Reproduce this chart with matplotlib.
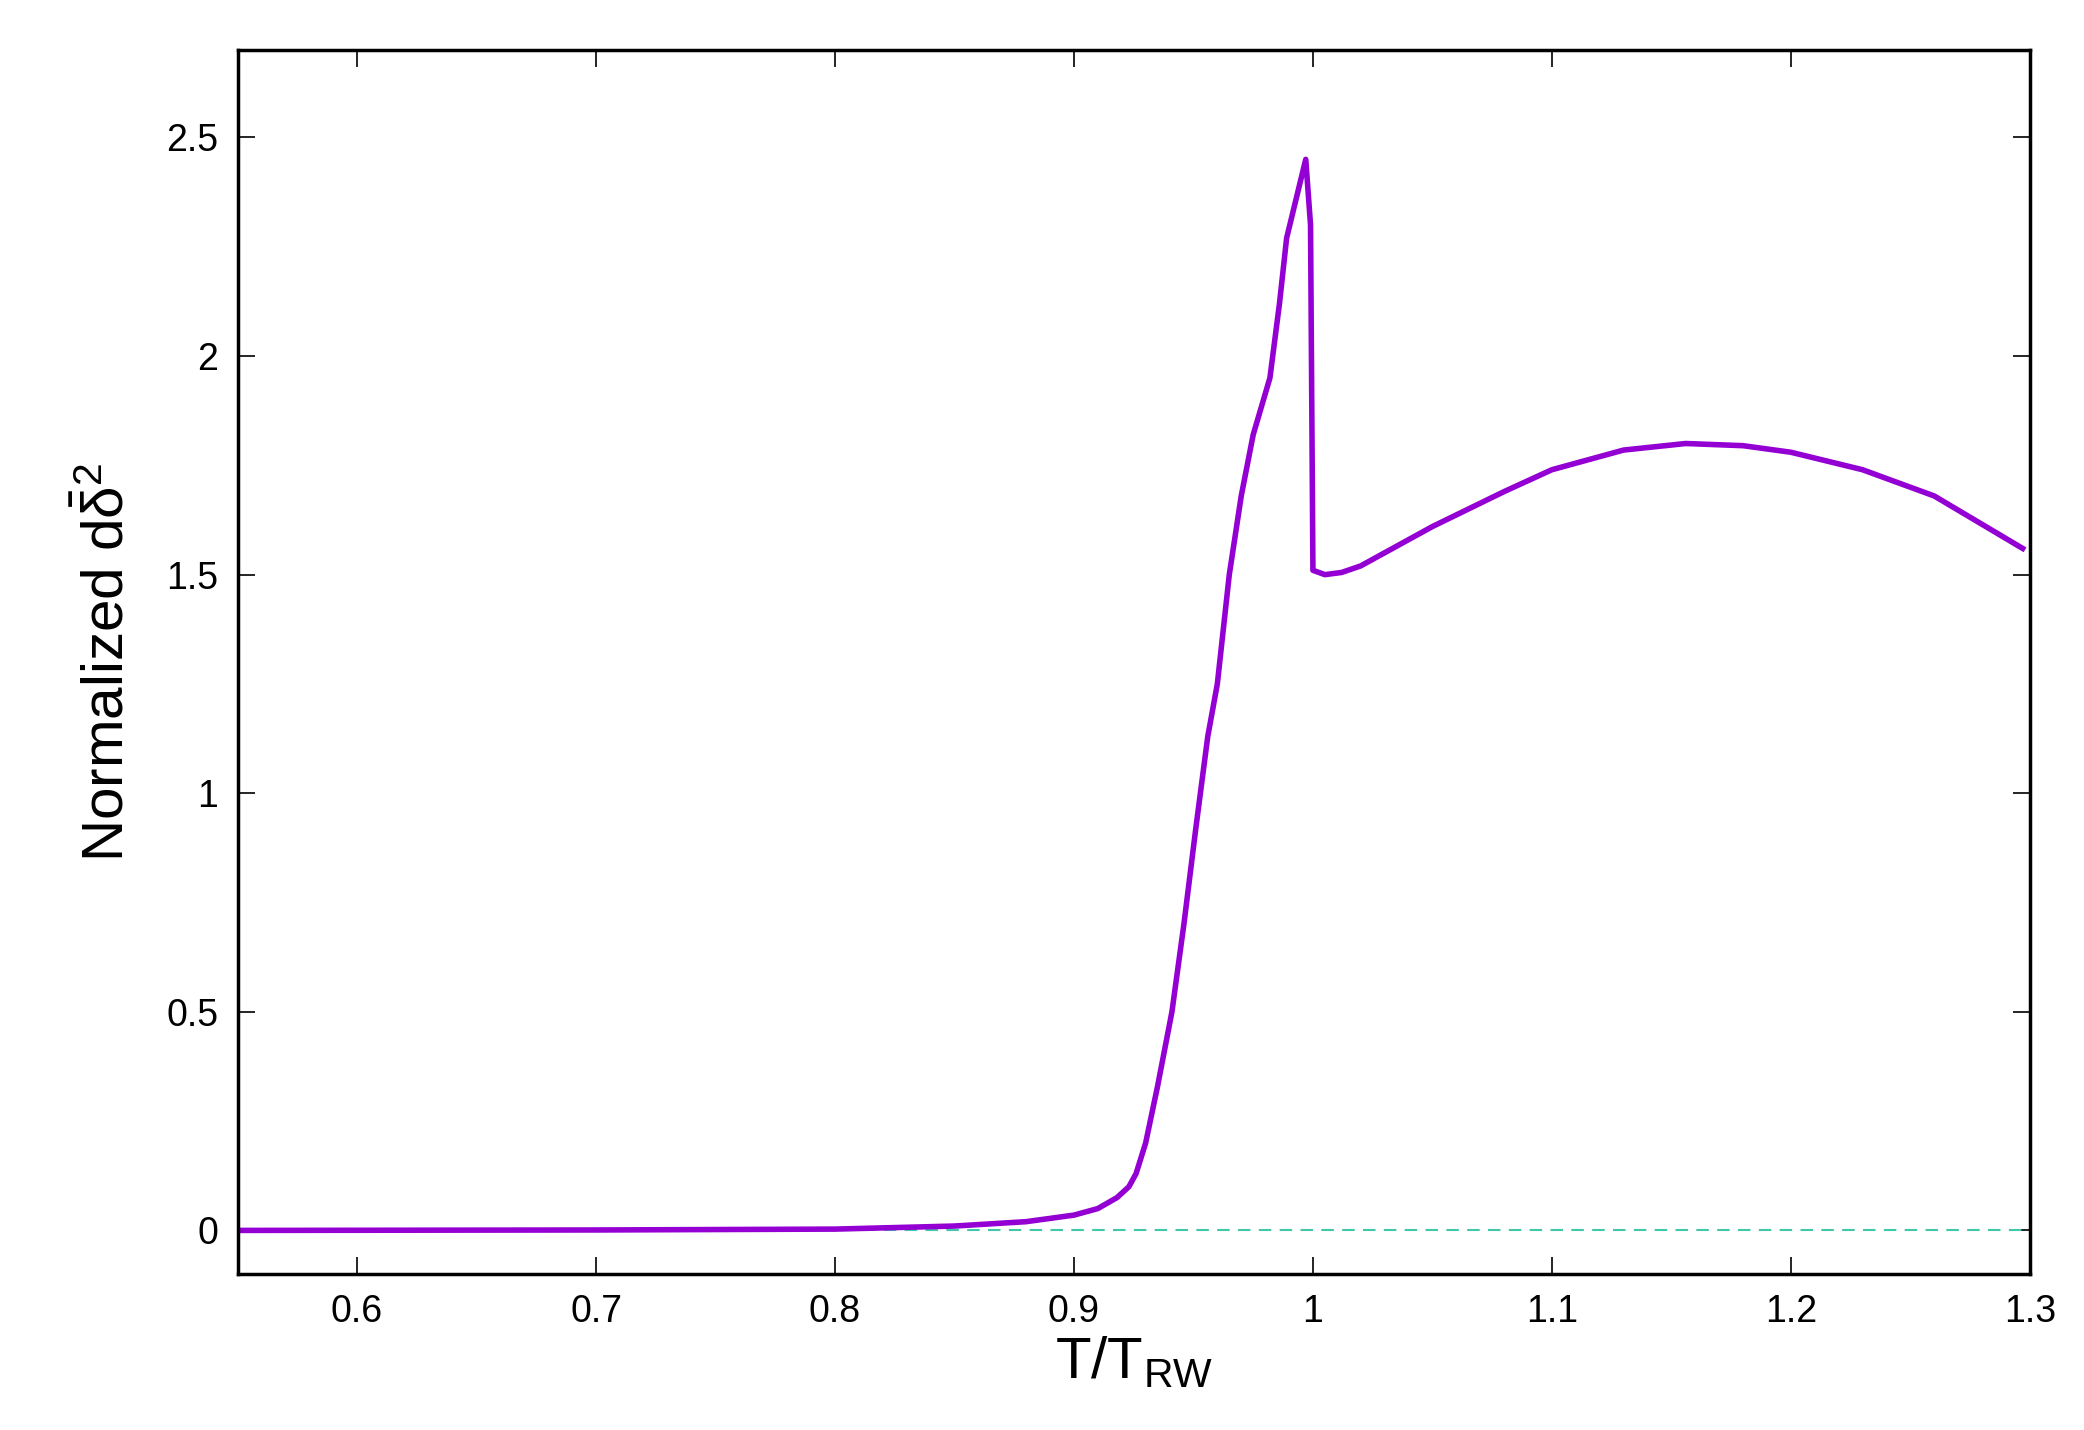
import numpy as np
import matplotlib.pyplot as plt

plt.rcParams['font.family'] = ['Liberation Sans', 'DejaVu Sans']
plt.rcParams['mathtext.fontset'] = 'custom'
plt.rcParams['mathtext.rm'] = 'Liberation Sans'
plt.rcParams['mathtext.it'] = 'Liberation Sans'

# curve
t_ratio = [0.55, 0.7, 0.8, 0.85, 0.88, 0.9, 0.91, 0.918, 0.923, 0.926, 0.93, 0.935,
           0.941, 0.946, 0.951, 0.956, 0.960, 0.965, 0.970, 0.975, 0.982, 0.986, 0.989,
           0.993, 0.997, 0.999, 1.0, 1.005, 1.012, 1.02, 1.03, 1.05, 1.08, 1.10, 1.13,
           1.156, 1.18, 1.20, 1.23, 1.26, 1.297]
norm_d = [0.0, 0.001, 0.003, 0.01, 0.02, 0.035, 0.05, 0.075, 0.10, 0.13, 0.2, 0.33,
          0.5, 0.7, 0.92, 1.13, 1.25, 1.5, 1.68, 1.82, 1.95, 2.12, 2.27,
          2.36, 2.45, 2.3, 1.51, 1.50, 1.505, 1.52, 1.55, 1.61, 1.69, 1.74, 1.785,
          1.80, 1.795, 1.78, 1.74, 1.68, 1.56]
zero_x = [0.55, 1.3]
zero_y = [0.0, 0.0]

fig = plt.figure(figsize=(20.84, 14.30), dpi=100)
ax = fig.add_axes([0.114, 0.109, 0.86, 0.856])
ax.plot(zero_x, zero_y, color='#40c8a8', lw=1.5, ls=(0, (6, 4)))
ax.plot(t_ratio, norm_d, color='#9400d3', lw=4)

ax.set_xlim(0.55, 1.3)
ax.set_ylim(-0.1, 2.7)
ax.set_xticks([0.6, 0.7, 0.8, 0.9, 1.0, 1.1, 1.2, 1.3])
ax.set_xticklabels(['0.6', '0.7', '0.8', '0.9', '1', '1.1', '1.2', '1.3'])
ax.set_yticks([0, 0.5, 1, 1.5, 2, 2.5])
ax.set_yticklabels(['0', '0.5', '1', '1.5', '2', '2.5'])
ax.tick_params(direction='in', top=True, right=True, length=12, width=1.2,
               labelsize=27, pad=14)
for s in ax.spines.values():
    s.set_linewidth(2.5)

ax.set_xlabel(r'T/T$_{\mathrm{RW}}$', fontsize=42, labelpad=4)
ax.set_ylabel(r'Normalized d$\bar{\delta}^2$', fontsize=42, labelpad=22)

fig.savefig('out.png', dpi=100)
